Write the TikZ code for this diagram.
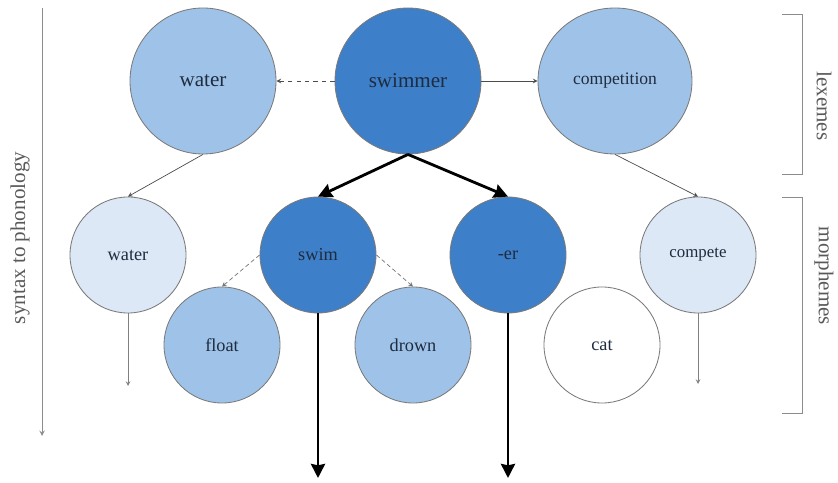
\documentclass[tikz,border=0pt]{standalone}
\usepackage{fontspec}
\setmainfont{Liberation Serif}
\usetikzlibrary{shapes.geometric,arrows.meta}

\definecolor{darkblue}{HTML}{3D7FC8}
\definecolor{midblue}{HTML}{9FC3E8}
\definecolor{paleblue}{HTML}{DCE8F5}
\definecolor{rimgray}{HTML}{7A7A7A}
\definecolor{inkblue}{HTML}{1F2B3E}

\begin{document}
\begin{tikzpicture}[
  lexeme/.style={circle, draw=rimgray, line width=0.6pt, minimum size=3.65cm, text=inkblue, font=\fontsize{15}{18}\selectfont},
  morph/.style={circle, draw=rimgray, line width=0.6pt, minimum size=2.9cm, text=inkblue, font=\fontsize{13}{16}\selectfont},
  lightarrow/.style={line width=0.5pt, black!70, -stealth},
  boldarrow/.style={line width=2pt, -{Stealth[length=10pt,width=10pt,inset=1pt]}},
  sidetext/.style={text=black!65, font=\fontsize{15}{18}\selectfont}
]
\useasboundingbox (0,0) rectangle (20.95,-12.075);

% lexemes
\node[lexeme, fill=midblue] at (5.075,-2.025) (water) {water};
\node[lexeme, fill=darkblue] at (10.2,-2.025) (swimmer) {swimmer};
\node[lexeme, ellipse, fill=midblue, minimum width=3.85cm, minimum height=3.65cm, font=\fontsize{12.5}{15}\selectfont] at (15.375,-2.025) (competition) {competition};

% morphemes
\node[morph, fill=paleblue] at (3.2,-6.375) (waterm) {water};
\node[morph, fill=darkblue] at (7.95,-6.375) (swim) {swim};
\node[morph, fill=darkblue] at (12.7,-6.375) (er) {-er};
\node[morph, fill=paleblue, font=\fontsize{12}{14}\selectfont] at (17.45,-6.375) (compete) {compete};
\node[morph, fill=midblue] at (5.55,-8.625) (float) {float};
\node[morph, fill=midblue] at (10.325,-8.625) (drown) {drown};
\node[morph, fill=white] at (15.05,-8.625) (cat) {cat};

\coordinate (swimend) at (7.95,-11.95);
\coordinate (erend) at (12.7,-11.95);
\coordinate (waterend) at (3.2,-9.65);
\coordinate (competeend) at (17.45,-9.6);

\draw[lightarrow, dashed] (swimmer) -- (water);
\draw[lightarrow] (swimmer) -- (competition);
\draw[lightarrow] (water.south) -- (waterm.north);
\draw[lightarrow] (competition.south) -- (compete.north);
\draw[lightarrow, densely dashed, black!55] (swim.west) -- (float.north);
\draw[lightarrow, densely dashed, black!55] (swim.east) -- (drown.north);

\draw[boldarrow] (swimmer.south) -- (swim.north);
\draw[boldarrow] (swimmer.south) -- (er.north);
\draw[boldarrow] (swim.south) -- (swimend);
\draw[boldarrow] (er.south) -- (erend);

\draw[lightarrow, black!50] (waterm.south) -- (waterend);
\draw[lightarrow, black!50] (compete.south) -- (competeend);

% side labels
\draw[line width=0.7pt, black!45, -stealth] (1.05,-0.2) -- (1.05,-10.9);
\node[sidetext, rotate=90] at (0.5,-5.95) (syntax) {syntax to phonology};

\draw[line width=0.7pt, black!45] (19.55,-0.35) -- (20.05,-0.35) -- (20.05,-4.35) -- (19.55,-4.35);
\draw[line width=0.7pt, black!45] (19.55,-4.925) -- (20.05,-4.925) -- (20.05,-10.325) -- (19.55,-10.325);
\node[sidetext, rotate=-90] at (20.6,-2.65) (lexemes) {lexemes};
\node[sidetext, rotate=-90] at (20.6,-6.9) (morphemes) {morphemes};

\end{tikzpicture}
\end{document}
